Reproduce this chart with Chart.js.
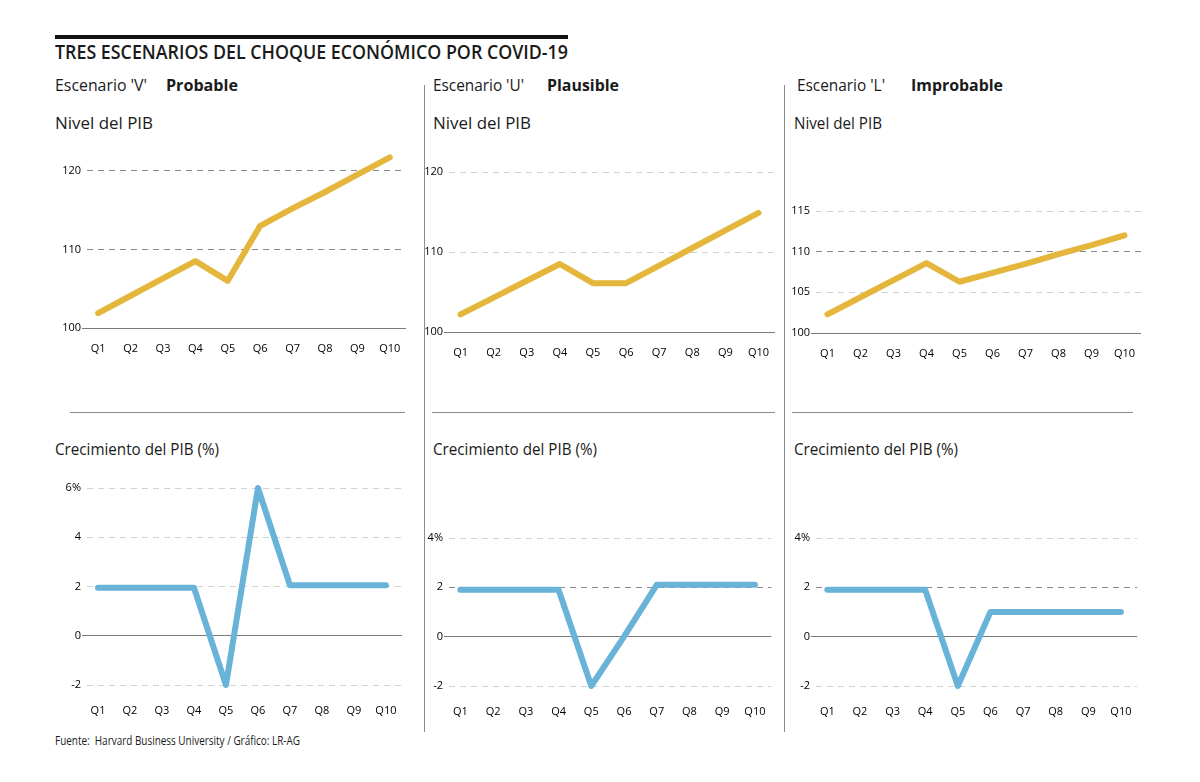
<!DOCTYPE html>
<html>
<head>
<meta charset="utf-8">
<script src="https://cdn.jsdelivr.net/npm/chart.js@4"></script>
<style>
  body { margin: 0; background: #fff; width: 1200px; height: 782px; position: relative; overflow: hidden; font-family: "Open Sans", sans-serif; color: #1a1a1a; }
  .t { position: absolute; white-space: nowrap; line-height: 1; transform-origin: 0 0; }
  .box { position: absolute; }
  .rule { position: absolute; background: #8c8c8c; }
</style>
</head>
<body>
<div class="rule" style="left:55px;top:35px;width:513px;height:4px;background:#111"></div>
<div class="t" data-w="513" style="left:55px;top:43px;font-size:19px;font-weight:600">TRES ESCENARIOS DEL CHOQUE ECONÓMICO POR COVID-19</div>

<div class="t" data-w="92" style="left:55px;top:77px;font-size:16px">Escenario 'V'</div>
<div class="t" data-w="72" style="left:166px;top:77px;font-size:16px;font-weight:700">Probable</div>
<div class="t" data-w="91" style="left:433px;top:77px;font-size:16px">Escenario 'U'</div>
<div class="t" data-w="72" style="left:547px;top:77px;font-size:16px;font-weight:700">Plausible</div>
<div class="t" data-w="88" style="left:797px;top:77px;font-size:16px">Escenario 'L'</div>
<div class="t" data-w="92" style="left:911px;top:77px;font-size:16px;font-weight:700">Improbable</div>

<div class="t" data-w="98" style="left:55px;top:115px;font-size:16px">Nivel del PIB</div>
<div class="t" data-w="98" style="left:433px;top:115px;font-size:16px">Nivel del PIB</div>
<div class="t" data-w="88" style="left:794px;top:115px;font-size:16px">Nivel del PIB</div>

<div class="t" data-w="164" style="left:55px;top:441px;font-size:16px">Crecimiento del PIB (%)</div>
<div class="t" data-w="164" style="left:433px;top:441px;font-size:16px">Crecimiento del PIB (%)</div>
<div class="t" data-w="164" style="left:794px;top:441px;font-size:16px">Crecimiento del PIB (%)</div>

<div class="rule" style="left:424px;top:85px;width:1px;height:647px"></div>
<div class="rule" style="left:784px;top:85px;width:1px;height:647px"></div>
<div class="rule" style="left:70px;top:412px;width:335px;height:1px"></div>
<div class="rule" style="left:432px;top:412px;width:343px;height:1px"></div>
<div class="rule" style="left:792px;top:412px;width:341px;height:1px"></div>

<div class="t" data-w="245" style="left:55px;top:735px;font-size:12px">Fuente:&nbsp; Harvard Business University / Gráfico: LR-AG</div>

<div class="box" id="b1"><canvas id="c1"></canvas></div>
<div class="box" id="b2"><canvas id="c2"></canvas></div>
<div class="box" id="b3"><canvas id="c3"></canvas></div>
<div class="box" id="b4"><canvas id="c4"></canvas></div>
<div class="box" id="b5"><canvas id="c5"></canvas></div>
<div class="box" id="b6"><canvas id="c6"></canvas></div>

<script>
'use strict';

// data
const quarters = ['Q1', 'Q2', 'Q3', 'Q4', 'Q5', 'Q6', 'Q7', 'Q8', 'Q9', 'Q10'];

const nivelV = [101.9, 104.1, 106.3, 108.5, 106.0, 113.0, 115.2, 117.3, 119.5, 121.7];
const nivelU = [102.2, 104.3, 106.4, 108.5, 106.1, 106.1, 108.3, 110.5, 112.7, 114.9];
const nivelL = [102.3, 104.4, 106.5, 108.6, 106.3, 107.4, 108.5, 109.7, 110.8, 112.0];

const crecV = [1.95, 1.95, 1.95, 1.95, -2, 6.0, 2.05, 2.05, 2.05, 2.05];
const crecU = [1.9, 1.9, 1.9, 1.9, -2, 0, 2.1, 2.1, 2.1, 2.1];
const crecL = [1.9, 1.9, 1.9, 1.9, -2, 1, 1, 1, 1, 1];

const ticksNivelVU = [100, 110, 120];
const ticksNivelL = [100, 105, 110, 115];
const ticksCrecV = [-2, 0, 2, 4, 6];
const ticksCrecUL = [-2, 0, 2, 4];

const GOLD = '#E4B63C';
const BLUE = '#68B3D7';

// scale fit for text (reference font is narrower)
document.querySelectorAll('.t[data-w]').forEach(function (el) {
    let w = el.getBoundingClientRect().width;
    let target = +el.dataset.w;
    el.style.transform = 'scaleX(' + (target / w) + ')';
});

function drawSmall(id, cfg) {
    const yW = 40, padTop = 10, padRight = 10;
    const box = document.getElementById('b' + id);
    const left = cfg.l - yW;
    const top = cfg.t - padTop;
    const width = cfg.r + padRight - left;
    const height = cfg.b + cfg.xH - top;
    box.style.left = left + 'px';
    box.style.top = top + 'px';
    box.style.width = width + 'px';
    box.style.height = height + 'px';

    const isBase = function (ctx) { return ctx.tick && ctx.tick.value === cfg.base; };

    new Chart('c' + id, {
        type: 'line',
        data: {
            labels: quarters,
            datasets: [{
                data: cfg.data,
                borderColor: cfg.color,
                borderWidth: 6,
                borderCapStyle: 'round',
                borderJoinStyle: 'round',
                pointRadius: 0,
                tension: 0,
                fill: false,
                clip: false
            }]
        },
        options: {
            responsive: true,
            maintainAspectRatio: false,
            animation: false,
            layout: { padding: { top: padTop, right: padRight, left: 0, bottom: 0 } },
            plugins: { legend: { display: false }, tooltip: { enabled: false } },
            scales: {
                x: {
                    offset: true,
                    grid: { display: false, drawTicks: false },
                    border: { display: false },
                    ticks: {
                        padding: cfg.xPad,
                        color: '#000',
                        font: { family: 'Open Sans', size: 11 },
                        maxRotation: 0,
                        autoSkip: false
                    },
                    afterFit: function (s) { s.height = cfg.xH; }
                },
                y: {
                    min: cfg.min,
                    max: cfg.max,
                    afterBuildTicks: function (s) {
                        s.ticks = cfg.ticks.map(function (v) { return { value: v }; });
                    },
                    afterFit: function (s) { s.width = yW; },
                    grid: {
                        drawTicks: false,
                        lineWidth: 1,
                        color: function (ctx) {
                            let v = ctx.tick ? ctx.tick.value : null;
                            if (v === cfg.base) return '#7a7a7a';
                            return cfg.dark.indexOf(v) >= 0 ? '#8a8a8a' : '#d2d2d2';
                        }
                    },
                    border: {
                        display: false,
                        dash: function (ctx) { return isBase(ctx) ? [] : [6, 5]; },
                        dashOffset: function (ctx) { return isBase(ctx) ? 0 : 6; }
                    },
                    ticks: {
                        padding: 1,
                        color: '#000',
                        font: { family: 'Open Sans', size: 11 },
                        callback: function (v) {
                            return (cfg.pct && v === cfg.ticks[cfg.ticks.length - 1]) ? v + '%' : String(v);
                        }
                    }
                }
            }
        }
    });
}

drawSmall(1, { data: nivelV, color: GOLD, l: 82, r: 406, t: 155, b: 328, min: 100, max: 122, ticks: ticksNivelVU, base: 100, dark: [110, 120], xH: 32, xPad: 14 });
drawSmall(2, { data: nivelU, color: GOLD, l: 444, r: 775, t: 172, b: 332, min: 100, max: 120, ticks: ticksNivelVU, base: 100, dark: [], xH: 32, xPad: 14 });
drawSmall(3, { data: nivelL, color: GOLD, l: 811, r: 1141, t: 211, b: 333, min: 100, max: 115, ticks: ticksNivelL, base: 100, dark: [110], xH: 32, xPad: 14 });

drawSmall(4, { data: crecV, color: BLUE, l: 82, r: 406, t: 488, b: 685, min: -2, max: 6, ticks: ticksCrecV, base: 0, dark: [], pct: true, xH: 36, xPad: 19 });
drawSmall(5, { data: crecU, color: BLUE, l: 444, r: 775, t: 538, b: 686, min: -2, max: 4, ticks: ticksCrecUL, base: 0, dark: [2], pct: true, xH: 36, xPad: 19 });
drawSmall(6, { data: crecL, color: BLUE, l: 811, r: 1141, t: 538, b: 686, min: -2, max: 4, ticks: ticksCrecUL, base: 0, dark: [2], pct: true, xH: 36, xPad: 19 });
</script>
</body>
</html>
